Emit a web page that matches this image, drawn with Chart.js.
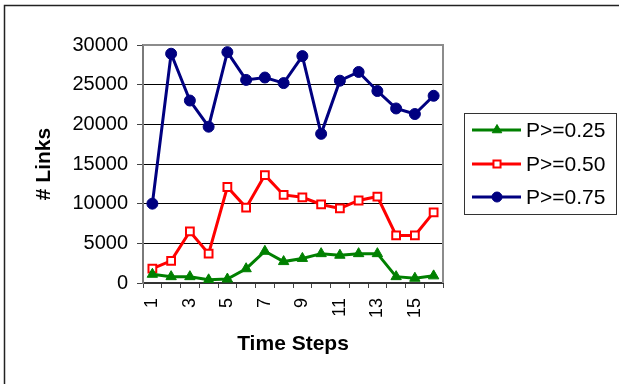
<!DOCTYPE html>
<html>
<head>
<meta charset="utf-8">
<script src="https://cdn.jsdelivr.net/npm/chart.js@4/dist/chart.umd.min.js"></script>
<style>
  html, body { margin: 0; padding: 0; background: #fff; }
  canvas { display: block; }
</style>
</head>
<body>
<canvas id="links" width="619" height="384"></canvas>
<script>
// Time steps on the category axis
const steps = ['1','2','3','4','5','6','7','8','9','10','11','12','13','14','15','16'];

// Number of links per time step for each probability threshold
const p25 = [1100, 800, 800, 400, 500, 1800, 4000, 2700, 3100, 3700, 3500, 3700, 3700, 800, 600, 900];
const p50 = [1800, 2800, 6500, 3700, 12100, 9500, 13600, 11100, 10800, 9900, 9400, 10400, 10900, 6000, 6000, 8900];
const p75 = [10000, 28900, 23000, 19700, 29100, 25600, 25900, 25200, 28600, 18800, 25500, 26600, 24200, 22000, 21300, 23600];

// Value axis ticks
const yTicks = [0, 5000, 10000, 15000, 20000, 25000, 30000];

const FONT = "'Liberation Sans', Arial, sans-serif";

// Outer frame and grey plot-area border
const framePlugin = {
  id: 'framePlugin',
  beforeDraw(chart) {
    const ctx = chart.ctx;
    ctx.save();
    ctx.strokeStyle = '#222';
    ctx.lineWidth = 1.5;
    ctx.beginPath();
    ctx.moveTo(4.5, chart.height);
    ctx.lineTo(4.5, 5.5);
    ctx.lineTo(chart.width, 5.5);
    ctx.stroke();
    ctx.restore();
  },
  beforeDatasetsDraw(chart) {
    const { ctx, chartArea: a } = chart;
    ctx.save();
    ctx.strokeStyle = '#8c8c8c';
    ctx.lineWidth = 2;
    ctx.beginPath();
    ctx.moveTo(a.left, a.top);
    ctx.lineTo(a.right, a.top);
    ctx.lineTo(a.right, a.bottom);
    ctx.stroke();
    ctx.restore();
  }
};

// Boxed legend with line + marker samples
const boxLegend = {
  id: 'boxLegend',
  afterDraw(chart) {
    const ctx = chart.ctx;
    const box = { x: 464.5, y: 113.5, w: 152, h: 101 };
    ctx.save();
    ctx.fillStyle = '#fff';
    ctx.fillRect(box.x, box.y, box.w, box.h);
    ctx.strokeStyle = '#333';
    ctx.lineWidth = 1;
    ctx.strokeRect(box.x, box.y, box.w, box.h);
    const rowY = [130, 164, 197];
    chart.data.datasets.forEach((ds, i) => {
      const y = rowY[i];
      ctx.strokeStyle = ds.borderColor;
      ctx.lineWidth = 3;
      ctx.beginPath();
      ctx.moveTo(472, y);
      ctx.lineTo(521, y);
      ctx.stroke();
      ctx.fillStyle = ds.pointBackgroundColor;
      ctx.strokeStyle = ds.pointBorderColor;
      ctx.lineWidth = ds.pointBorderWidth;
      Chart.helpers.drawPoint(ctx, {
        pointStyle: ds.pointStyle,
        radius: ds.pointRadius - 0.5,
        rotation: 0,
        borderWidth: ds.pointBorderWidth
      }, 497, y);
      ctx.fillStyle = '#000';
      ctx.font = '21px ' + FONT;
      ctx.textAlign = 'left';
      ctx.textBaseline = 'middle';
      ctx.fillText(ds.label, 526, y + 1);
    });
    ctx.restore();
  }
};

new Chart(document.getElementById('links'), {
  type: 'line',
  data: {
    labels: steps,
    datasets: [
      {
        label: 'P>=0.25',
        data: p25,
        borderColor: '#008000',
        borderWidth: 3,
        pointStyle: 'triangle',
        pointRadius: 6,
        pointBackgroundColor: '#008000',
        pointBorderColor: '#008000',
        pointBorderWidth: 1
      },
      {
        label: 'P>=0.50',
        data: p50,
        borderColor: '#ff0000',
        borderWidth: 3,
        pointStyle: 'rect',
        pointRadius: 5.5,
        pointBackgroundColor: '#ffffff',
        pointBorderColor: '#ff0000',
        pointBorderWidth: 2
      },
      {
        label: 'P>=0.75',
        data: p75,
        borderColor: '#000080',
        borderWidth: 3,
        pointStyle: 'circle',
        pointRadius: 5.5,
        pointBackgroundColor: '#000080',
        pointBorderColor: '#000080',
        pointBorderWidth: 1
      }
    ]
  },
  options: {
    responsive: false,
    animation: false,
    devicePixelRatio: 1,
    layout: { padding: { left: 0, top: 45, right: 176, bottom: 0 } },
    elements: { line: { tension: 0 } },
    plugins: {
      legend: { display: false },
      tooltip: { enabled: false }
    },
    scales: {
      x: {
        type: 'category',
        offset: true,
        afterFit(scale) { scale.height = 101; },
        grid: {
          offset: true,
          drawOnChartArea: false,
          drawTicks: true,
          tickLength: 5,
          color: '#444',
          lineWidth: 1
        },
        border: { display: true, color: '#333', width: 2 },
        ticks: {
          autoSkip: false,
          minRotation: 90,
          maxRotation: 90,
          padding: 10,
          color: '#000',
          font: { family: FONT, size: 18 },
          callback: (v, i) => (i % 2 === 0 ? steps[i] : '')
        },
        title: {
          display: true,
          text: 'Time Steps',
          color: '#000',
          font: { family: FONT, size: 21, weight: 'bold' },
          padding: { top: 0, bottom: 27 }
        }
      },
      y: {
        min: 0,
        max: 30000,
        afterFit(scale) { scale.width = 143; },
        afterBuildTicks(scale) { scale.ticks = yTicks.map(v => ({ value: v })); },
        grid: {
          drawTicks: true,
          tickLength: 6,
          color: (c) => (c.tick && c.tick.value === 30000 ? 'rgba(0,0,0,0)' : '#000'),
          tickColor: '#444',
          lineWidth: 1
        },
        border: { display: true, color: '#7a7a7a', width: 2 },
        ticks: {
          padding: 9,
          color: '#000',
          font: { family: FONT, size: 20 },
          callback: (v) => String(v)
        },
        title: {
          display: true,
          text: '# Links',
          color: '#000',
          font: { family: FONT, size: 21, weight: 'bold' },
          padding: { top: 32, bottom: 0 }
        }
      }
    }
  },
  plugins: [framePlugin, boxLegend]
});
</script>
</body>
</html>
